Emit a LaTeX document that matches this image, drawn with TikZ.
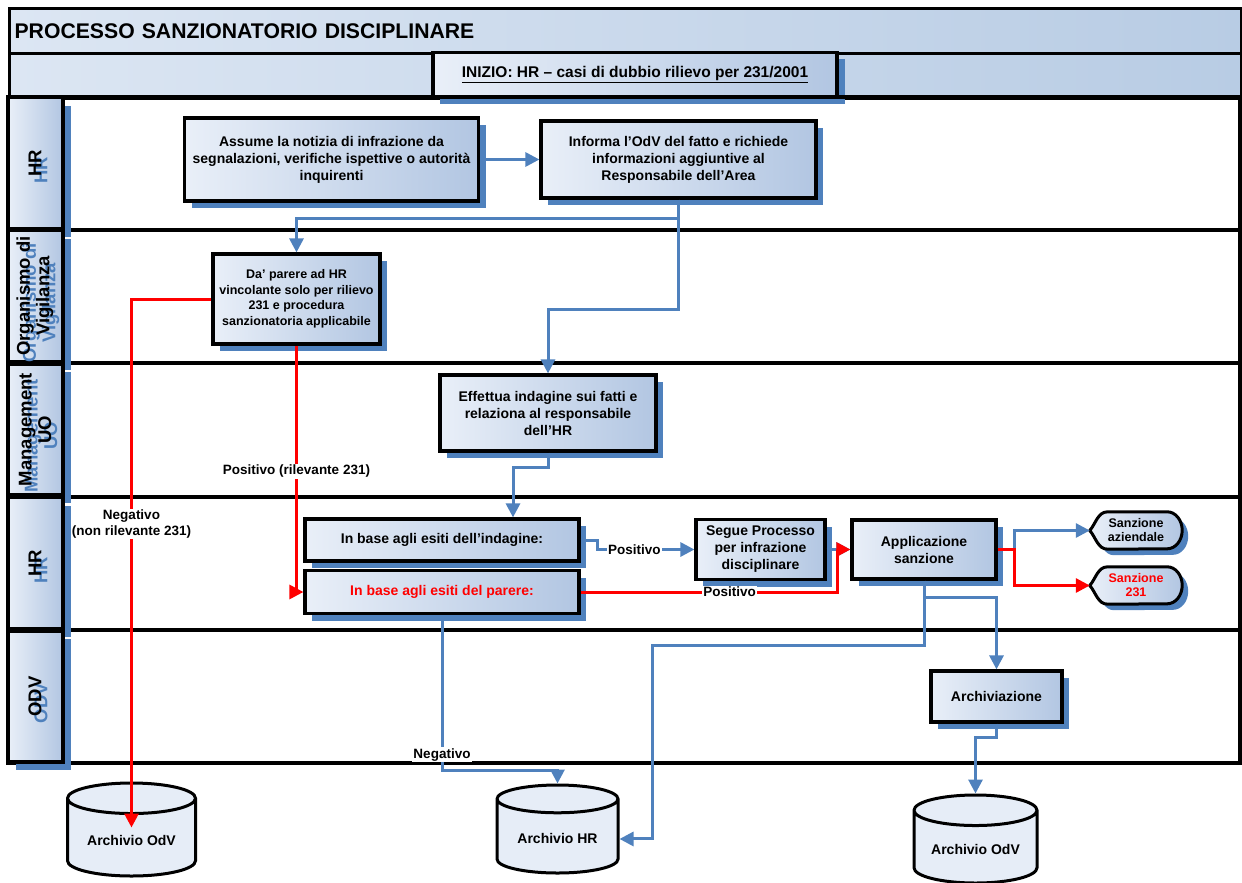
\documentclass[tikz,border=0pt]{standalone}
\usepackage{fontspec}
\setmainfont{Liberation Sans}
\usetikzlibrary{positioning}
\usetikzlibrary{shapes.geometric}
\usetikzlibrary{arrows.meta}
\usetikzlibrary{shadows}
\usetikzlibrary{backgrounds}
\definecolor{offblue}{RGB}{79,129,189}
\definecolor{boxlight}{RGB}{233,239,248}
\definecolor{boxdark}{RGB}{178,198,226}
\definecolor{barlight}{RGB}{220,230,243}
\definecolor{bardark}{RGB}{184,204,228}
\definecolor{cylfill}{RGB}{230,237,247}
\tikzset{
    procbox/.style = {rectangle, line width=3.2pt, draw=black, align=center, inner sep=2pt,
        left color=boxlight, right color=boxdark,
        general shadow={fill=offblue, shadow xshift=7pt, shadow yshift=-7pt},
        font=\bfseries\fontsize{14}{17}\selectfont},
    lanebox/.style = {rectangle, line width=3.2pt, draw=black, minimum width=55pt, minimum height=131pt,
        left color=boxlight, right color=boxdark,
        general shadow={fill=offblue, shadow xshift=8pt, shadow yshift=-8pt}},
    lanetxt/.style = {rotate=90, align=center, font=\bfseries\fontsize{18.5}{19.5}\selectfont},
    laneghost/.style = {lanetxt, text=offblue},
    titlebar/.style = {rectangle, line width=3.2pt, draw=black, left color=barlight, right color=bardark},
    archivio/.style = {cylinder, shape border rotate=90, aspect=0.32, anchor=shape center, line width=3pt,
        draw=black, fill=cylfill, font=\bfseries\fontsize{14}{17}\selectfont},
    sanz/.style = {rectangle, inner sep=0pt, minimum width=92pt, minimum height=37pt, align=center,
        font=\bfseries\fontsize{12.5}{14}\selectfont},
    sanzline/.style = {line width=3pt, draw=black, left color=boxlight, right color=boxdark,
        general shadow={fill=offblue, shadow xshift=6pt, shadow yshift=-6pt}},
    edgeb/.style = {-{Triangle[width=14pt,length=14pt]}, line width=3pt, offblue},
    edger/.style = {-{Triangle[width=14pt,length=14pt]}, line width=3pt, red},
    lbl/.style = {fill=white, text=black, inner sep=1pt, align=center, font=\bfseries\fontsize{13.5}{16}\selectfont}
}
% outline of the "display" shape behind a sanz node
\newcommand{\sanzoutline}[1]{%
  \begin{scope}[on background layer]
  \draw[sanzline] (#1.west) .. controls ([xshift=6pt,yshift=7pt]#1.west) and ([xshift=8pt]#1.north west) .. ([xshift=18pt]#1.north west)
     -- ([xshift=-15pt]#1.north east) arc[start angle=90, end angle=-90, x radius=15pt, y radius=18.5pt]
     -- ([xshift=18pt]#1.south west) .. controls ([xshift=8pt]#1.south west) and ([xshift=6pt,yshift=-7pt]#1.west) .. (#1.west) -- cycle;
  \end{scope}}

\begin{document}
\begin{tikzpicture}[x=1pt,y=-1pt]
\useasboundingbox (0,0) rectangle (1242,883);
%
\node[titlebar, anchor=north west, minimum width=1232pt, minimum height=45pt, text width=1222pt, align=left,
      font=\bfseries\fontsize{21.2}{24}\selectfont] (titolo) at (8,7) {PROCESSO SANZIONATORIO DISCIPLINARE};
\node[titlebar, anchor=north west, minimum width=1232pt, minimum height=45pt] (barra) at (8,52) {};
\node[procbox, minimum width=404pt, minimum height=44pt, font=\bfseries\fontsize{15.5}{17}\selectfont,
      general shadow={fill=offblue, shadow xshift=8pt, shadow yshift=-7pt}] (inizio) at (635,74.5)
      {\underline{INIZIO: HR – casi di dubbio rilievo per 231/2001}};
%
\foreach \top/\bot in {97/230, 230/363, 363/497, 497/630, 630/763}
  \draw[line width=3.2pt] (8,\top) rectangle (1240,\bot);
%
\node[lanebox] (lhr) at (35.5,163) {};
\node[laneghost] (lhrg) at (41,170) {HR};
\node[lanetxt] (lhrt) at (35,163) {HR};
\node[lanebox] (lodv) at (35.5,296) {};
\node[laneghost] (lodvg) at (41,303) {Organismo di\\Vigilanza};
\node[lanetxt] (lodvt) at (35,296) {Organismo di\\Vigilanza};
\node[lanebox] (lmuo) at (35.5,429.5) {};
\node[laneghost] (lmuog) at (41,436) {Management\\UO};
\node[lanetxt] (lmuot) at (35,429.5) {Management\\UO};
\node[lanebox] (lhr2) at (35.5,563) {};
\node[laneghost] (lhr2g) at (41,570) {HR};
\node[lanetxt] (lhr2t) at (35,563) {HR};
\node[lanebox] (lodv2) at (35.5,696.5) {};
\node[laneghost] (lodv2g) at (41,703) {ODV};
\node[lanetxt] (lodv2t) at (35,696.5) {ODV};
%
\node[procbox, minimum width=294pt, minimum height=83pt] (assume) at (331.5,159.5) {Assume la notizia di infrazione da\\segnalazioni, verifiche ispettive o autorità\\inquirenti};
\node[procbox, minimum width=275pt, minimum height=77pt] (informa) at (678.5,159.5) {Informa l’OdV del fatto e richiede\\informazioni aggiuntive al\\Responsabile dell’Area};
\node[procbox, minimum width=167pt, minimum height=90pt, font=\bfseries\fontsize{12.5}{15.5}\selectfont] (parere) at (296.5,299) {Da’ parere ad HR\\vincolante solo per rilievo\\231 e procedura\\sanzionatoria applicabile};
\node[procbox, minimum width=216pt, minimum height=76pt] (indagine) at (548,413) {Effettua indagine sui fatti e\\relaziona al responsabile\\dell’HR};
\node[procbox, minimum width=274pt, minimum height=42pt] (esitind) at (442,540) {In base agli esiti dell’indagine:};
\node[procbox, minimum width=274pt, minimum height=43pt, text=red] (esitpar) at (442,592) {In base agli esiti del parere:};
\node[procbox, minimum width=129pt, minimum height=60pt] (segue) at (760.5,549.5) {Segue Processo\\per infrazione\\disciplinare};
\node[procbox, minimum width=144pt, minimum height=59pt] (applica) at (924,549.5) {Applicazione\\sanzione};
\node[procbox, minimum width=131pt, minimum height=51pt] (archiviaz) at (996.5,696.5) {Archiviazione};
%
\node[sanz] (sanzaz) at (1136,530.5) {Sanzione\\aziendale};
\node[sanz, text=red] (sanz231) at (1136,585.5) {Sanzione\\231};
\sanzoutline{sanzaz}
\sanzoutline{sanz231}
%
\node[archivio, minimum width=128pt, minimum height=93pt] (archodv) at (131.5,829.5) {Archivio OdV};
\node[archivio, minimum width=121pt, minimum height=88pt] (archhr) at (557.5,829) {Archivio HR};
\node[archivio, minimum width=123pt, minimum height=88pt] (archodv2) at (975.5,839) {Archivio OdV};
\coordinate (hrbend) at (652,645);
%
\draw[edgeb] (assume) -- (informa);
\draw[edgeb] (informa.south) -- ++(0,19) -| (parere.north);
\draw[edgeb] (informa.south) -- ++(0,110) -| (indagine.north);
\draw[edgeb] (indagine.south) -- ++(0,15) -| ([xshift=71pt]esitind.north);
\draw[edgeb] (esitind.east) -- ++(17,0) |- node[lbl, pos=0.69] {Positivo} (segue.west);
\draw[edgeb] (segue) -- (applica);
\draw[edger] (esitpar.east) -| node[lbl, pos=0.29] {Positivo} ([xshift=-13pt]applica.west) -- (applica.west);
\draw[edgeb] (applica.east) -- ++(17,0) |- (sanzaz.west);
\draw[edger] (applica.east) -- ++(17,0) |- (sanz231.west);
\draw[edgeb] (applica.south) -- ++(0,17) -| (archiviaz.north);
\draw[edgeb] (applica.south) |- (hrbend) |- (archhr.east);
\draw[edgeb] (esitpar.south) -- ++(0,155) node[lbl, pos=0.9] {Negativo} -| (archhr.north);
\draw[edger] (parere.west) -| node[lbl, pos=0.713] {Negativo\\(non rilevante 231)} ([yshift=-46pt]archodv.north);
\draw[edger] (parere.south) |- node[lbl, pos=0.255] {Positivo (rilevante 231)} (esitpar.west);
\draw[edgeb] (archiviaz.south) -- ++(0,14) -| (archodv2.north);

\end{tikzpicture}
\end{document}
